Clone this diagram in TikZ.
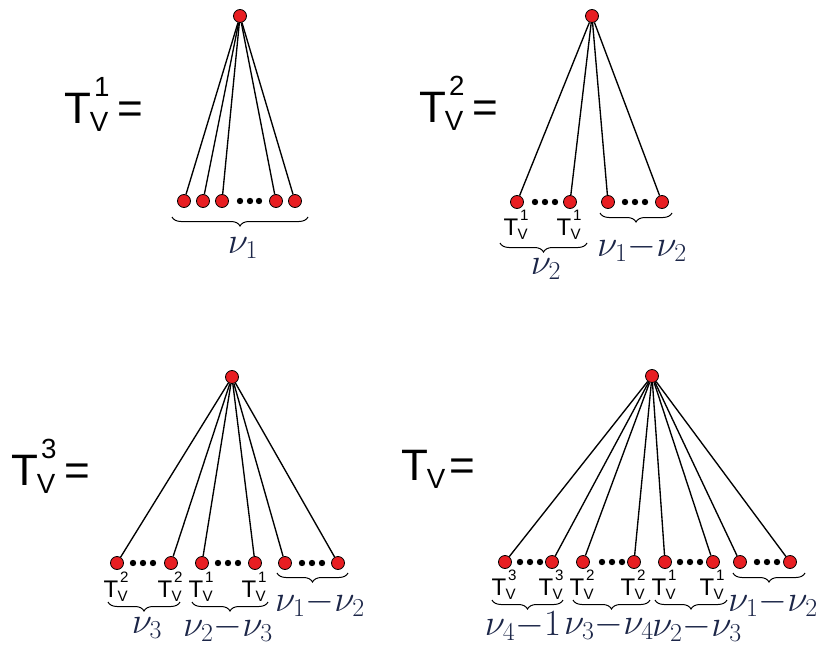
\RequirePackage{fix-cm}
\documentclass[tikz,border=0pt]{standalone}
\usepackage{fontspec}
\usepackage{graphicx}
\newfontfamily\arial{Liberation Sans}
\usetikzlibrary{decorations.pathreplacing}
\definecolor{nublue}{RGB}{28,38,72}
\definecolor{vred}{RGB}{232,30,34}
% T with subscript V and a superscript
\newcommand{\tvsup}[1]{T\kern-0.03em\rlap{\raisebox{-0.2em}{\scalebox{0.63}{V}}}\kern0.1em\raisebox{0.6em}{\scalebox{0.63}{#1}}\kern0.08em}
\newcommand{\tvbare}{T\kern-0.03em\raisebox{-0.2em}{\scalebox{0.63}{V}}}
% brace label
\newcommand{\nulab}[1]{\scalebox{1.32}{$#1$}}
\begin{document}
\begin{tikzpicture}[x=1pt,y=-1pt,
    vert/.style={circle,draw=black,fill=vred,line width=0.8pt,inner sep=0pt,minimum size=13pt},
    edge/.style={line width=1.35pt},
    brc/.style={decorate,decoration={brace,amplitude=9pt,mirror},line width=1pt},
    tsmall/.style={font=\arial\fontsize{24}{24}\selectfont,inner sep=0pt,anchor=base},
    tbig/.style={font=\arial\fontsize{44}{44}\selectfont,inner sep=0pt,anchor=base west},
    nutext/.style={text=nublue,font=\fontsize{28}{28}\selectfont,inner sep=0pt}]
  \useasboundingbox (0,0) rectangle (817,645);

  % first tree: nu_1 leaves
  \node[tbig] (lab1) at (64,123) {\tvsup{1}\kern0.1em=};
  \node[vert] (r1) at (240,16) {};
  \node[vert] (l11) at (184,201) {};
  \node[vert] (l12) at (203,201) {};
  \node[vert] (l13) at (222,201) {};
  \node[vert] (l14) at (276,201) {};
  \node[vert] (l15) at (295,201) {};
  \foreach \x in {240,250,259} \fill (\x,201) circle (3.2pt);
  \foreach \n in {l11,l12,l13,l14,l15} \draw[edge] (r1) -- (\n);
  \draw[brc] (172,217) -- (308,217);
  \node[nutext] (n1) at (243,248) {\nulab{\nu_1}};

  % second tree
  \node[tbig] (lab2) at (419,122) {\tvsup{2}\kern0.1em=};
  \node[vert] (r2) at (592,16) {};
  \node[vert] (l21) at (517,202) {};
  \node[vert] (l22) at (570,202) {};
  \node[vert] (l23) at (608,202) {};
  \node[vert] (l24) at (662,202) {};
  \foreach \x in {535,545,555,625,635,645} \fill (\x,202) circle (3.2pt);
  \foreach \n in {l21,l22,l23,l24} \draw[edge] (r2) -- (\n);
  \node[tsmall] (t21) at ([yshift=-33pt]l21.center) {\tvsup{1}};
  \node[tsmall] (t22) at ([yshift=-33pt]l22.center) {\tvsup{1}};
  \draw[brc] (500,243) -- (587,243);
  \node[nutext] (n21) at (546,269) {\nulab{\nu_2}};
  \draw[brc] (600,213) -- (672,213);
  \node[nutext] (n22) at (642,248) {\nulab{\nu_1{-}\nu_2}};

  % third tree
  \node[tbig] (lab3) at (11,485) {\tvsup{3}\kern0.1em=};
  \node[vert] (r3) at (232,377) {};
  \node[vert] (l31) at (117,563) {};
  \node[vert] (l32) at (171,563) {};
  \node[vert] (l33) at (202,563) {};
  \node[vert] (l34) at (255,563) {};
  \node[vert] (l35) at (285,563) {};
  \node[vert] (l36) at (338,563) {};
  \foreach \x in {133,143,153,218,228,238,302,312,322} \fill (\x,563) circle (3.2pt);
  \foreach \n in {l31,l32,l33,l34,l35,l36} \draw[edge] (r3) -- (\n);
  \node[tsmall] (t31) at ([yshift=-34pt]l31.center) {\tvsup{2}};
  \node[tsmall] (t32) at ([yshift=-34pt]l32.center) {\tvsup{2}};
  \node[tsmall] (t33) at ([yshift=-34pt]l33.center) {\tvsup{1}};
  \node[tsmall] (t34) at ([yshift=-34pt]l34.center) {\tvsup{1}};
  \draw[brc] (108,602) -- (180,602);
  \node[nutext] (n31) at (147,628) {\nulab{\nu_3}};
  \draw[brc] (192,602) -- (268,602);
  \node[nutext] (n32) at (228,628) {\nulab{\nu_2{-}\nu_3}};
  \draw[brc] (277,573) -- (348,573);
  \node[nutext] (n33) at (320,603) {\nulab{\nu_1{-}\nu_2}};

  % the whole tree
  \node[tbig] (lab4) at (401,480) {\tvbare\kern0.1em=};
  \node[vert] (r4) at (652,376) {};
  \node[vert] (l41) at (505,562) {};
  \node[vert] (l42) at (552,562) {};
  \node[vert] (l43) at (583,562) {};
  \node[vert] (l44) at (634,562) {};
  \node[vert] (l45) at (665,562) {};
  \node[vert] (l46) at (713,562) {};
  \node[vert] (l47) at (740,562) {};
  \node[vert] (l48) at (790,562) {};
  \foreach \x in {520,530,540,602,612,622,680,690,700,757,767,777} \fill (\x,562) circle (3.2pt);
  \foreach \n in {l41,l42,l43,l44,l45,l46,l47,l48} \draw[edge] (r4) -- (\n);
  \node[tsmall] (t41) at ([yshift=-33pt]l41.center) {\tvsup{3}};
  \node[tsmall] (t42) at ([yshift=-33pt]l42.center) {\tvsup{3}};
  \node[tsmall] (t43) at ([yshift=-33pt]l43.center) {\tvsup{2}};
  \node[tsmall] (t44) at ([yshift=-33pt]l44.center) {\tvsup{2}};
  \node[tsmall] (t45) at ([yshift=-33pt]l45.center) {\tvsup{1}};
  \node[tsmall] (t46) at ([yshift=-33pt]l46.center) {\tvsup{1}};
  \draw[brc] (492,600) -- (563,600);
  \node[nutext] (n41) at (523,626) {\nulab{\nu_4{-}1}};
  \draw[brc] (573,600) -- (650,600);
  \node[nutext] (n42) at (609,626) {\nulab{\nu_3{-}\nu_4}};
  \draw[brc] (655,600) -- (727,600);
  \node[nutext] (n43) at (697,628) {\nulab{\nu_2{-}\nu_3}};
  \draw[brc] (733,573) -- (805,573);
  \node[nutext] (n44) at (773,603) {\nulab{\nu_1{-}\nu_2}};
\end{tikzpicture}
\end{document}
